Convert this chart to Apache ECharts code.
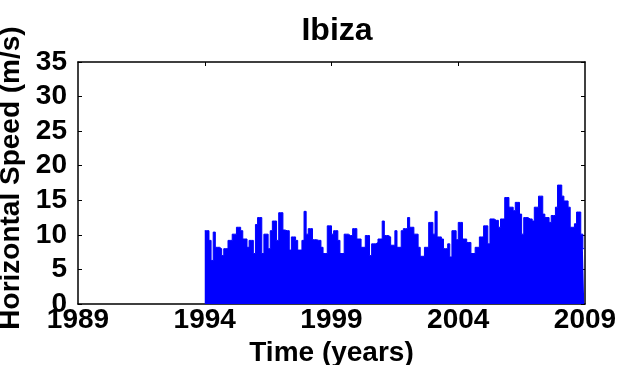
<!DOCTYPE html>
<html>
<head>
<meta charset="utf-8">
<script src="https://cdn.jsdelivr.net/npm/echarts@6/dist/echarts.min.js"></script>
<style>
  html, body { margin: 0; padding: 0; background: #fff; }
  #chart { width: 617px; height: 365px; }
</style>
</head>
<body>
<div id="chart"></div>
<script>
// monthly mean horizontal wind speed, Ibiza, from Jan 1994
var startYear = 1994;
var speed = [
  10.6, 10.6, 9.2, 6.3, 10.4, 8.2, 8.2, 8.0, 7.0, 8.0, 8.0, 9.2, 9.2, 10.1, 10.1,
  11.1, 11.1, 10.6, 9.4, 9.4, 8.2, 9.2, 9.2, 7.3, 11.5, 12.5, 12.5, 7.3, 10.1, 10.1,
  8.0, 10.6, 12.0, 12.0, 9.2, 13.2, 13.2, 10.7, 10.6, 10.6, 7.8, 9.7, 9.7, 9.2,
  7.8, 7.8, 9.2, 13.4, 10.1, 10.9, 10.9, 9.3, 9.3, 9.2, 9.2, 8.2, 7.3, 7.3, 11.3, 11.3,
  10.1, 10.6, 10.6, 9.2, 7.3, 7.3, 10.1, 10.1, 9.9, 9.9, 10.9, 10.9, 9.4, 9.4, 8.2, 8.2, 9.9, 9.9,
  7.0, 8.7, 8.7, 8.9, 9.4, 9.4, 12.0, 9.9, 9.9, 9.7, 8.5, 8.5, 10.6, 8.2, 8.2, 10.6, 10.9, 10.9,
  12.5, 11.1, 11.1, 10.1, 10.1, 8.2, 6.9, 6.9, 8.2, 8.2, 11.8, 11.8, 10.1, 13.4,
  9.7, 9.7, 9.4, 8.0, 8.0, 8.7, 6.8, 10.6, 10.6, 9.3, 11.8, 11.8, 9.4, 9.4,
  8.9, 8.9, 7.3, 7.3, 8.2, 8.2, 9.7, 9.7, 11.3, 11.3, 8.7, 12.3, 12.3, 12.1, 12.1, 11.1, 12.3, 12.3,
  15.4, 15.4, 14.0, 14.0, 13.5, 14.7, 14.7, 13.0, 10.1, 12.5, 12.5, 12.3, 12.3, 12.0, 14.0, 14.0,
  15.6, 15.6, 13.0, 12.5, 12.5, 11.8, 12.8, 12.8, 14.0, 17.2, 17.2, 15.6, 14.9, 14.9, 14.0,
  11.1, 11.1, 11.6, 13.3, 13.3, 10.1, 8.0
];
var yearLabels = [1989, 1994, 1999, 2004, 2009];
var yearTicks = [1994, 1999, 2004];

var seriesData = speed.map(function (v, i) { return [startYear + i / 12, v]; });
seriesData.push([startYear + speed.length / 12 - 0.03, speed[speed.length - 1]]);

var font = 'Liberation Sans, Arial, sans-serif';
var dom = document.getElementById('chart');
var myChart = echarts.init(dom, null, { renderer: 'canvas' });
var axisLine = { show: true, onZero: false, lineStyle: { color: '#000', width: 1.5 } };

var option = {
    animation: false,
    backgroundColor: '#fff',
    title: {
        text: 'Ibiza',
        left: 332,
        top: 10,
        textAlign: 'center',
        textStyle: { fontFamily: font, fontSize: 32, fontWeight: 'bold', color: '#000' }
    },
    grid: { left: 78, right: 32, top: 62, bottom: 61, outerBoundsMode: 'none', containLabel: false },
    xAxis: [{
        type: 'value',
        min: 1989,
        max: 2009,
        name: 'Time (years)',
        nameLocation: 'middle',
        nameGap: 31,
        nameTextStyle: { fontFamily: font, fontSize: 28, fontWeight: 'bold', color: '#000' },
        axisLine: axisLine,
        axisTick: { show: true, inside: true, length: 4, customValues: yearTicks, lineStyle: { color: '#000' } },
        axisLabel: {
            customValues: yearLabels,
            formatter: function (v) { return String(v); },
            margin: 2,
            fontFamily: font, fontSize: 28, fontWeight: 'bold', color: '#000'
        },
        splitLine: { show: false }
    }, {
        type: 'value',
        position: 'top',
        min: 1989,
        max: 2009,
        axisLine: axisLine,
        axisTick: { show: true, inside: true, length: 4, customValues: yearTicks, lineStyle: { color: '#000' } },
        axisLabel: { show: false },
        splitLine: { show: false }
    }],
    yAxis: [{
        type: 'value',
        min: 0,
        max: 35,
        interval: 5,
        name: 'Horizontal Speed (m/s)',
        nameLocation: 'middle',
        nameGap: 41,
        nameTextStyle: { fontFamily: font, fontSize: 28, fontWeight: 'bold', color: '#000', padding: [0, 0, 0, 10] },
        axisLine: axisLine,
        axisTick: { show: true, inside: true, length: 4, lineStyle: { color: '#000' } },
        axisLabel: { margin: 11, fontFamily: font, fontSize: 28, fontWeight: 'bold', color: '#000' },
        splitLine: { show: false }
    }, {
        type: 'value',
        position: 'right',
        min: 0,
        max: 35,
        interval: 5,
        axisLine: axisLine,
        axisTick: { show: true, inside: true, length: 4, lineStyle: { color: '#000' } },
        axisLabel: { show: false },
        splitLine: { show: false }
    }],
    series: [{
        name: 'speed',
        type: 'line',
        step: 'end',
        xAxisIndex: 0,
        yAxisIndex: 0,
        data: seriesData,
        showSymbol: false,
        symbol: 'none',
        lineStyle: { color: '#0000ff', width: 1 },
        areaStyle: { color: '#0000ff', opacity: 1 },
        z: 3
    }]
};
myChart.setOption(option, true);
</script>
</body>
</html>
